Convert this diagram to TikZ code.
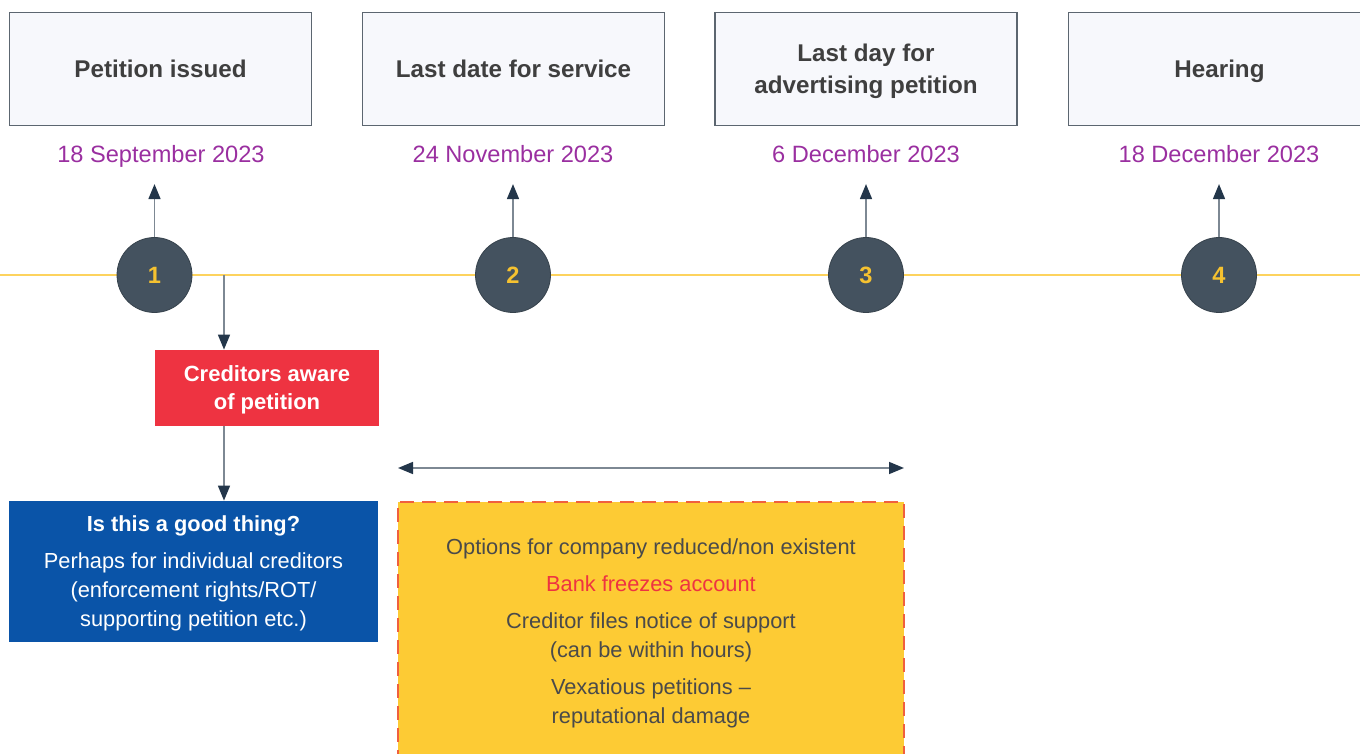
\documentclass[tikz,border=0pt]{standalone}
\usepackage{fontspec}
\setmainfont{Liberation Sans}
\usetikzlibrary{arrows.meta}
\definecolor{boxgrey}{HTML}{F7F8FC}
\definecolor{edgegrey}{HTML}{5C6670}
\definecolor{txtgrey}{HTML}{3F3F3F}
\definecolor{datepurple}{HTML}{9A2FA0}
\definecolor{lineyellow}{HTML}{FDD35E}
\definecolor{dotslate}{HTML}{44525F}
\definecolor{numyellow}{HTML}{F6C230}
\definecolor{tipnavy}{HTML}{23364A}
\definecolor{shaftgrey}{HTML}{7D8893}
\definecolor{alertred}{HTML}{EE3341}
\definecolor{deepblue}{HTML}{0A54A8}
\definecolor{boxyellow}{HTML}{FDCB34}
\definecolor{dashred}{HTML}{F0603E}
\definecolor{bodygrey}{HTML}{4A4A4A}
\newcommand{\bodyfont}{\fontsize{10.9}{14.5}\selectfont}
\tikzset{
  stage/.style={draw=edgegrey, line width=0.6pt, fill=boxgrey,
    minimum width=151pt, minimum height=56.5pt, align=center, text depth=0pt,
    text=txtgrey, font=\fontsize{12.1}{16}\selectfont\bfseries},
  datelbl/.style={text=datepurple, text depth=0pt, font=\fontsize{11.8}{14}\selectfont},
  dot/.style={circle, fill=dotslate, draw=dotslate!80!black, line width=0.4pt,
    minimum size=37.5pt, inner sep=0pt, text=numyellow,
    font=\fontsize{11.8}{13}\selectfont\bfseries},
  pointer/.style={draw=shaftgrey, line width=0.8pt,
    -{Triangle[length=7.5pt,width=6pt,color=tipnavy]}},
  span/.style={draw=shaftgrey, line width=0.8pt,
    {Triangle[length=7.5pt,width=6pt,color=tipnavy]}-{Triangle[length=7.5pt,width=6pt,color=tipnavy]}}
}

\begin{document}
\begin{tikzpicture}[x=0.5pt,y=-0.5pt]
\useasboundingbox (0,0) rectangle (1360,754);
\clip (0,0) rectangle (1360,754);

% timeline
\coordinate (tlL) at (0,275);
\coordinate (tlR) at (1360,275);
\draw[lineyellow, line width=1pt] (tlL) -- (tlR);

% stages
\node[stage] (s1) at (160.5,69) {Petition issued};
\node[stage] (s2) at (513.5,69) {Last date for service};
\node[stage] (s3) at (866,69) {Last day for\\advertising petition};
\node[stage] (s4) at (1219.5,69) {Hearing};

\node[datelbl] (t1) at (161,154) {18 September 2023};
\node[datelbl] (t2) at (513,154) {24 November 2023};
\node[datelbl] (t3) at (866,154) {6 December 2023};
\node[datelbl] (t4) at (1219,154) {18 December 2023};

\node[dot] (d1) at (154.5,275) {1};
\node[dot] (d2) at (513,275) {2};
\node[dot] (d3) at (866,275) {3};
\node[dot] (d4) at (1219,275) {4};

\draw[pointer] (d1.north) -- ++(0,-53);
\draw[pointer] (d2.north) -- ++(0,-53);
\draw[pointer] (d3.north) -- ++(0,-53);
\draw[pointer] (d4.north) -- ++(0,-53);

% creditors
\node[fill=alertred, minimum width=112pt, minimum height=38pt, align=center,
  text depth=0pt, text=white, font=\fontsize{11}{14}\selectfont\bfseries] (aware) at (267,388)
  {Creditors aware\\of petition};
\node[fill=deepblue, minimum width=184.5pt, minimum height=70.5pt, align=center,
  text depth=0pt, text=white, font=\bodyfont] (good) at (193.5,571.5)
  {\textbf{Is this a good thing?}\\[4pt]Perhaps for individual creditors\\
   (enforcement rights/ROT/\\supporting petition etc.)};
\coordinate (drop) at (224,275);
\draw[pointer] (drop) -- (drop |- aware.north);
\draw[pointer] (drop |- aware.south) -- (drop |- good.north);

% window between service and advertising
\coordinate (spanL) at (398,468);
\coordinate (spanR) at (904,468);
\draw[span] (spanL) -- (spanR);
\node[fill=boxyellow, draw=dashred, line width=0.8pt, dash pattern=on 7pt off 4pt,
  minimum width=253pt, minimum height=129pt, align=center, text depth=0pt,
  text=bodygrey, font=\bodyfont, anchor=north] (window) at (651,501)
  {Options for company reduced/non existent\\[4pt]
   \textcolor{alertred}{Bank freezes account}\\[4pt]
   Creditor files notice of support\\(can be within hours)\\[4pt]
   Vexatious petitions --\\reputational damage};
\end{tikzpicture}
\end{document}
